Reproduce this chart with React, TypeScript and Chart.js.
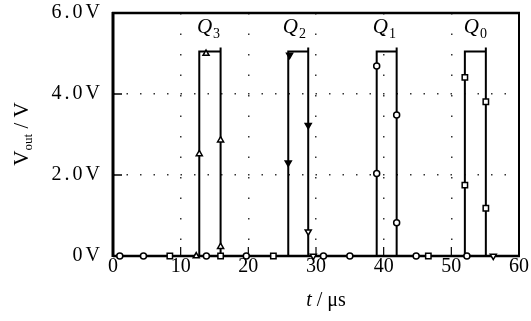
import { useEffect, useRef } from "react";
import { Chart, registerables } from "chart.js";

Chart.register(...registerables);

// ---- axes ----
const xTicks = [0, 10, 20, 30, 40, 50, 60];
const yTicks = [0, 2, 4, 6];
const yTickLabels = ["0V", "2.0V", "4.0V", "6.0V"];

// ---- waveforms (time in µs, voltage in V) ----
const q3LineT = [0, 12.75, 12.75, 15.9, 15.9, 15.9, 60];
const q3LineV = [0, 0, 5.05, 5.05, 5.15, 0, 0];
const q2LineT = [0, 25.9, 25.9, 28.85, 28.85, 28.85, 60];
const q2LineV = [0, 0, 5.05, 5.05, 5.15, 0, 0];
const q1LineT = [0, 38.97, 38.97, 41.92, 41.92, 41.92, 60];
const q1LineV = [0, 0, 5.05, 5.05, 5.15, 0, 0];
const q0LineT = [0, 52.0, 52.0, 55.1, 55.1, 55.1, 60];
const q0LineV = [0, 0, 5.05, 5.05, 5.15, 0, 0];

// ---- trace markers ----
const q3MarkT = [12.3, 12.75, 13.75, 15.9, 15.9];
const q3MarkV = [0, 2.52, 5.0, 2.86, 0.23];
const q2MarkT = [25.9, 26.1, 28.85, 28.85, 29.6, 56.2];
const q2MarkV = [2.3, 4.96, 3.23, 0.6, 0, 0];
const q1MarkT = [1.0, 4.5, 13.8, 19.7, 31.1, 35.0, 38.97, 38.97, 41.92, 41.92, 44.8, 52.3];
const q1MarkV = [0, 0, 0, 0, 0, 0, 4.69, 2.04, 3.48, 0.82, 0, 0];
const q0MarkT = [8.4, 15.9, 23.7, 46.6, 52.0, 52.0, 55.1, 55.1];
const q0MarkV = [0, 0, 0, 0, 4.41, 1.75, 3.81, 1.18];

// ---- pulse labels ----
const qLabelSub = ["3", "2", "1", "0"];
const qLabelT = [12.4, 25.1, 38.4, 51.85];
const qLabelV = 5.5;

const SERIF = "'Liberation Serif', 'Times New Roman', serif";

const xy = (t: number[], v: number[]) => t.map((x, i) => ({ x, y: v[i] }));

const lineDs = (t: number[], v: number[]) => ({
  type: "line",
  data: xy(t, v),
  borderColor: "#000",
  borderWidth: 2,
  pointRadius: 0,
  tension: 0,
  fill: false,
  clip: false,
  order: 1,
});

const markDs = (t: number[], v: number[], style: string, rot: number, radius: number, bg: any) => ({
  type: "line",
  data: xy(t, v),
  showLine: false,
  pointStyle: style,
  pointRotation: rot,
  pointRadius: radius,
  pointBorderWidth: 1.5,
  pointBorderColor: "#000",
  pointBackgroundColor: bg,
  clip: false,
  order: 0,
});

const zeroPad = (s: any) => {
  s.paddingTop = 0;
  s.paddingBottom = 0;
  s.paddingLeft = 0;
  s.paddingRight = 0;
};

const framePlugin = {
  id: "frame",
  beforeDatasetsDraw(chart: any) {
    const { ctx, chartArea: a, scales } = chart;
    const seg = (x1: number, y1: number, x2: number, y2: number, w: number) => {
      ctx.lineWidth = w;
      ctx.beginPath();
      ctx.moveTo(x1, y1);
      ctx.lineTo(x2, y2);
      ctx.stroke();
    };
    ctx.save();
    ctx.strokeStyle = "#000";
    ctx.setLineDash([]);
    for (const v of yTicks.slice(1, -1)) {
      const y = scales.y.getPixelForValue(v);
      seg(a.left, y, a.left + 9, y, 1.5);
    }
    for (const t of xTicks.slice(1, -1)) {
      const x = scales.x.getPixelForValue(t);
      seg(x, a.bottom, x, a.bottom - 9, 1.2);
    }
    seg(a.left - 1, a.top, a.right + 1, a.top, 2.5);
    seg(a.right, a.top, a.right, a.bottom, 2);
    seg(a.left, a.bottom, a.right + 1, a.bottom, 2.5);
    seg(a.left, a.top - 1, a.left, a.bottom + 1, 3);
    ctx.restore();
  },
  afterDraw(chart: any) {
    const { ctx, scales } = chart;
    ctx.save();
    ctx.fillStyle = "#000";
    ctx.textBaseline = "alphabetic";
    // pulse labels
    qLabelSub.forEach((s, i) => {
      const x = scales.x.getPixelForValue(qLabelT[i]);
      const y = scales.y.getPixelForValue(qLabelV);
      ctx.font = `italic 21px ${SERIF}`;
      ctx.textAlign = "left";
      ctx.fillText("Q", x, y);
      const w = ctx.measureText("Q").width;
      ctx.font = `14px ${SERIF}`;
      ctx.fillText(s, x + w + 1, y + 5);
    });
    // y title
    ctx.translate(20, 134);
    ctx.rotate(-Math.PI / 2);
    const pieces = [
      { t: "V", f: `21px ${SERIF}`, dy: 0 },
      { t: "out", f: `13px ${SERIF}`, dy: 4 },
      { t: " / ", f: `21px ${SERIF}`, dy: 0 },
      { t: "V", f: `21px ${SERIF}`, dy: 0 },
    ];
    let total = 0;
    for (const p of pieces) {
      ctx.font = p.f;
      total += ctx.measureText(p.t).width;
    }
    let cx = -total / 2;
    ctx.textAlign = "left";
    for (const p of pieces) {
      ctx.font = p.f;
      ctx.fillText(p.t, cx, 8 + p.dy);
      cx += ctx.measureText(p.t).width;
    }
    ctx.setTransform(1, 0, 0, 1, 0, 0);
    // x title
    const xp = [
      { t: "t", f: `italic 20px ${SERIF}` },
      { t: " / ", f: `20px ${SERIF}` },
      { t: "μs", f: `20px ${SERIF}` },
    ];
    total = 0;
    for (const p of xp) {
      ctx.font = p.f;
      total += ctx.measureText(p.t).width;
    }
    cx = 326 - total / 2;
    for (const p of xp) {
      ctx.font = p.f;
      ctx.fillText(p.t, cx, 306);
      cx += ctx.measureText(p.t).width;
    }
    ctx.restore();
  },
  afterLayout(chart: any) {
    const s: any = chart.scales.y;
    if (s && !s.__ls) {
      const orig = s.drawLabels.bind(s);
      s.drawLabels = (area: any) => {
        const ctx: any = chart.ctx;
        ctx.save();
        ctx.letterSpacing = "3px";
        orig(area);
        ctx.restore();
      };
      s.__ls = true;
    }
  },
};

export default function App() {
  const ref = useRef<HTMLCanvasElement>(null);
  useEffect(() => {
    if (!ref.current) return;
    const chart = new Chart(ref.current, {
      type: "line",
      data: {
        datasets: [
          lineDs(q3LineT, q3LineV),
          lineDs(q2LineT, q2LineV),
          lineDs(q1LineT, q1LineV),
          lineDs(q0LineT, q0LineV),
          markDs(q3MarkT, q3MarkV, "triangle", 0, 3.5, "#fff"),
          markDs(q2MarkT, q2MarkV, "triangle", 180, 3.5, ["#000", "#000", "#000", "#fff", "#fff", "#fff"]),
          markDs(q1MarkT, q1MarkV, "circle", 0, 3, "#fff"),
          markDs(q0MarkT, q0MarkV, "rect", 0, 3.8, "#fff"),
        ] as any,
      },
      options: {
        animation: false,
        responsive: false,
        maintainAspectRatio: false,
        layout: { padding: { left: 0, right: 12, top: 13, bottom: 0 } },
        plugins: { legend: { display: false }, tooltip: { enabled: false } },
        scales: {
          x: {
            type: "linear",
            min: 0,
            max: 60,
            afterFit: (s: any) => {
              s.height = 65;
              zeroPad(s);
            },
            afterBuildTicks: (s: any) => {
              s.ticks = xTicks.map((v) => ({ value: v }));
            },
            ticks: {
              color: "#000",
              font: { family: SERIF, size: 20, lineHeight: 1 },
              padding: 1,
              maxRotation: 0,
              autoSkip: false,
              callback: (v: any, i: number) => String(xTicks[i]),
            },
            grid: { drawTicks: false, color: "#333", lineWidth: 1.5 },
            border: { display: false, dash: [1.5, 19] },
          },
          y: {
            type: "linear",
            min: 0,
            max: 6,
            afterFit: (s: any) => {
              s.width = 113;
              zeroPad(s);
            },
            afterBuildTicks: (s: any) => {
              s.ticks = yTicks.map((v) => ({ value: v }));
            },
            ticks: {
              color: "#000",
              font: { family: SERIF, size: 20 },
              padding: 10,
              callback: (v: any, i: number) => yTickLabels[i],
            },
            grid: { drawTicks: false, color: "#333", lineWidth: 1.5 },
            border: { display: false, dash: [1.5, 12] },
          },
        },
      } as any,
      plugins: [framePlugin as any],
    });
    return () => chart.destroy();
  }, []);
  return (
    <div style={{ position: "absolute", left: 0, top: 0, width: 531, height: 321, background: "#fff" }}>
      <canvas ref={ref} width={531} height={321} style={{ display: "block" }} />
    </div>
  );
}
